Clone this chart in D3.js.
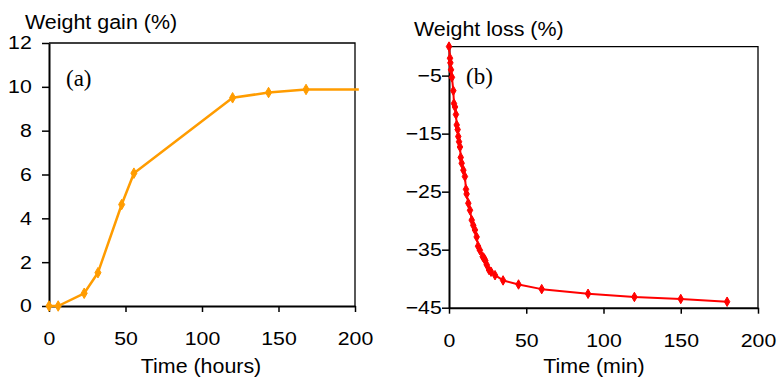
<!DOCTYPE html>
<html>
<head>
<meta charset="utf-8">
<script src="https://cdn.jsdelivr.net/npm/d3@7"></script>
<style>
  body { margin: 0; background: #fff; }
  svg { display: block; }
  text { font-family: 'Liberation Sans', Arial, sans-serif; fill: #000; }
</style>
</head>
<body>
<div id="chart"></div>
<script>
// panel (a) - weight gain vs time (hours)
var gainHours = [0, 6, 23, 32, 47.5, 55.5, 120, 143.5, 168, 202.5]
var gainPct = [0, 0, 0.58, 1.52, 4.63, 6.06, 9.5, 9.74, 9.88, 9.88]
var gainTicksY = [0, 2, 4, 6, 8, 10, 12]

// panel (b) - weight loss vs time (min)
var lossMin = [0, 0.65, 0.9, 1.3, 1.9, 2.8, 3.2, 3.9, 4.5, 5.0, 5.6, 6.0, 6.5, 7.1,
  7.6, 8.2, 9.3, 10.3, 11.0, 11.4, 12.5, 13.6, 14.7, 15.7, 16.8, 17.9, 18.8, 20,
  21.8, 22.8, 23.5, 24.4, 25.9, 27.2, 29.8, 35, 45, 60, 90, 120, 150, 180]
var lossPct = [0, -2.0, -2.8, -4.0, -5.3, -7.6, -9.8, -10.4, -11.7, -13.5, -14.3,
  -15.5, -16.4, -17.3, -19.1, -20.1, -21.3, -22.4, -24.6, -25.4, -27.0, -28.2,
  -29.9, -30.8, -31.6, -32.8, -34.4, -35.1, -36.2, -36.5, -36.9, -37.6, -38.5,
  -38.8, -39.4, -40.3, -41.0, -41.8, -42.6, -43.15, -43.5, -43.97]
var lossTicksY = [-45, -35, -25, -15, -5]

var timeTicks = [0, 50, 100, 150, 200]

var svg = d3.select('#chart')
  .append('svg')
  .attr('width', 777)
  .attr('height', 380)

function drawPanel(opts) {
  var g = svg.append('g')

  var x = d3.scaleLinear().domain([0, 200]).range([opts.left, opts.right])
  var y = d3.scaleLinear().domain(opts.yDomain).range([opts.bottom, opts.top])

  // frame (top and right)
  g.append('path')
    .attr('d', 'M' + opts.left + ',' + opts.top + 'H' + opts.right + 'V' + opts.bottom)
    .attr('fill', 'none')
    .attr('stroke', '#000')
    .attr('stroke-width', 1.3)

  var yAxis = d3.axisLeft(y).tickValues(opts.yTicks).tickSizeInner(7).tickSizeOuter(0)
  var yg = g.append('g')
    .attr('transform', 'translate(' + opts.left + ',0)')
    .call(yAxis)
  yg.select('.domain').attr('stroke-width', 2)
  yg.selectAll('line').attr('stroke-width', 1.5)
  yg.selectAll('text')
    .attr('x', opts.yLabelX)
    .attr('font-size', 18.5)
    .attr('transform', 'scale(1.15,1)')
    .style('font-family', "'Liberation Sans', Arial, sans-serif")

  var xAxis = d3.axisBottom(x).tickValues(timeTicks).tickSizeInner(6).tickSizeOuter(0)
  var xg = g.append('g')
    .attr('transform', 'translate(0,' + opts.bottom + ')')
    .call(xAxis)
  xg.select('.domain').attr('stroke-width', 2)
  xg.selectAll('line').attr('stroke-width', 1.5)
  xg.selectAll('text')
    .attr('y', 39)
    .attr('dy', null)
    .attr('font-size', 18.5)
    .attr('transform', 'scale(1.15,1)')
    .style('font-family', "'Liberation Sans', Arial, sans-serif")

  var pts = opts.xs.map(function(v, i) { return { x: v, y: opts.ys[i] } })

  var line = d3.line()
    .x(function(d) { return x(d.x) })
    .y(function(d) { return y(d.y) })

  g.append('path')
    .datum(pts)
    .attr('d', line)
    .attr('fill', 'none')
    .attr('stroke', opts.color)
    .attr('stroke-width', opts.lineWidth)
    .attr('stroke-linejoin', 'round')

  g.selectAll('.marker')
    .data(pts.filter(function(d) { return d.x <= 200 }))
    .enter()
    .append('path')
    .attr('class', 'marker')
    .attr('d', d3.symbol().type(d3.symbolDiamond).size(opts.markerSize))
    .attr('transform', function(d) { return 'translate(' + x(d.x) + ',' + y(d.y) + ')' })
    .attr('fill', opts.color)
    .attr('stroke', opts.color)
    .attr('stroke-width', 1)

  // y title
  g.append('text')
    .text(opts.yTitle)
    .attr('font-size', 19.5)
    .attr('transform', 'translate(' + opts.yTitleX + ',' + opts.yTitleY + ') scale(1.1,1)')

  // x title
  g.append('text')
    .text(opts.xTitle)
    .attr('font-size', 20)
    .attr('text-anchor', 'middle')
    .attr('transform', 'translate(' + opts.xTitleX + ',373) scale(1.07,1)')

  // panel letter
  g.append('text')
    .text(opts.letter)
    .attr('font-size', 23)
    .style('font-family', "'Liberation Serif', 'Times New Roman', serif")
    .attr('x', opts.letterX)
    .attr('y', opts.letterY)
}

drawPanel({
  left: 49, right: 355, top: 43, bottom: 306,
  yDomain: [0, 12], yTicks: gainTicksY, yLabelX: -15,
  xs: gainHours, ys: gainPct,
  color: '#ff9c00', lineWidth: 2.5, markerSize: 32,
  yTitle: 'Weight gain (%)', yTitleX: 25, yTitleY: 29,
  xTitle: 'Time (hours)', xTitleX: 201,
  letter: '(a)', letterX: 66, letterY: 86
})

drawPanel({
  left: 449, right: 758, top: 46.6, bottom: 307.7,
  yDomain: [-45, 0], yTicks: lossTicksY, yLabelX: -6.3,
  xs: lossMin, ys: lossPct,
  color: '#ff0000', lineWidth: 2, markerSize: 26,
  yTitle: 'Weight loss (%)', yTitleX: 414, yTitleY: 36,
  xTitle: 'Time (min)', xTitleX: 594,
  letter: '(b)', letterX: 466, letterY: 84
})
</script>
</body>
</html>
